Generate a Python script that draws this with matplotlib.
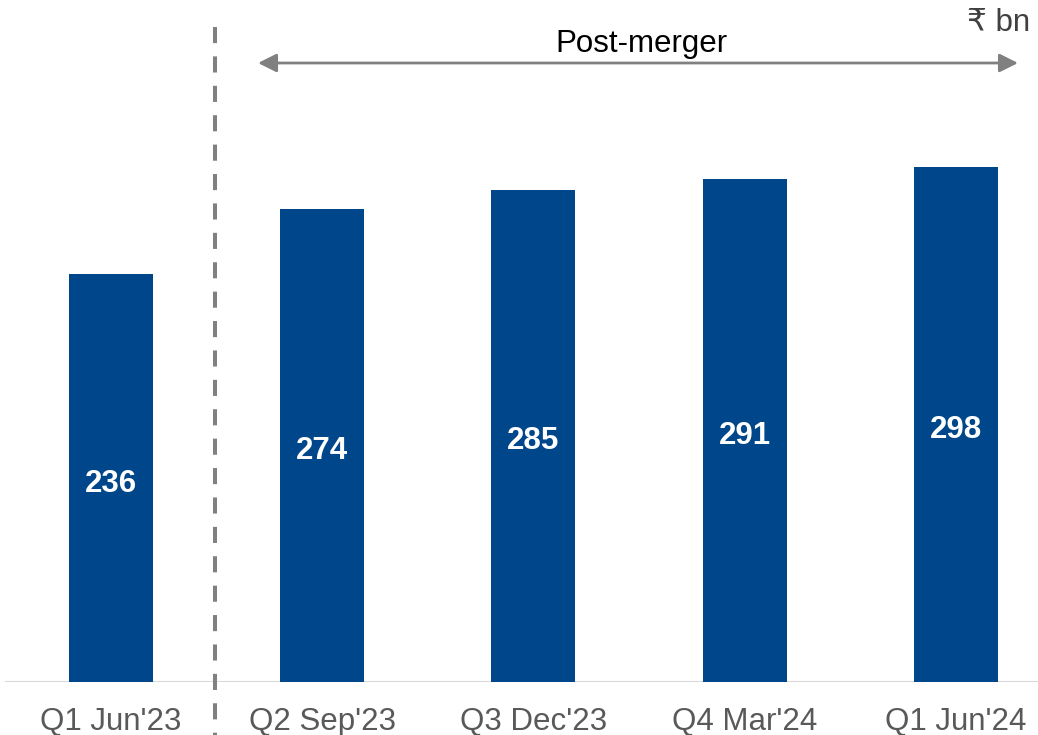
import matplotlib.pyplot as plt
from matplotlib.lines import Line2D

categories = ["Q1 Jun'23", "Q2 Sep'23", "Q3 Dec'23", "Q4 Mar'24", "Q1 Jun'24"]
values = [236, 274, 285, 291, 298]

plt.rcParams['font.family'] = ['Liberation Sans', 'DejaVu Sans']

fig = plt.figure(figsize=(10.38, 7.35), dpi=100)
# axes bottom sits on the baseline of the bars
ax = fig.add_axes([0, 53 / 735, 1, 682 / 735])

x = list(range(len(categories)))
bars = ax.bar(x, values, width=0.398, color='#00468B', zorder=2)

ax.set_xlim(-0.5256, 4.389)
ax.set_ylim(0, 394.9)

for xi, v in zip(x, values):
    ax.annotate(str(v), (xi, v / 2), xytext=(0, -4), textcoords='offset points',
                ha='center', va='center', color='white',
                fontsize=22.5, fontweight='bold')

# x axis labels
ax.set_xticks(x)
ax.set_xticklabels(categories, fontsize=22.5, color='#595959')
ax.tick_params(axis='x', length=0, pad=18)
ax.set_yticks([])
for s in ['top', 'right', 'left', 'bottom']:
    ax.spines[s].set_visible(False)

# baseline
ax.axhline(0, xmin=6 / 1038, xmax=1, color='#d9d9d9', lw=1.5, zorder=1)

# dashed separator between pre and post merger
sep = Line2D([215 / 1038, 215 / 1038], [1 - 27 / 735, 0], transform=fig.transFigure,
             color='#808080', lw=2.9, linestyle=(0, (4, 3.3)))
fig.add_artist(sep)

# post-merger arrow
ax.annotate('', xy=(1018 / 1038, 1 - 63 / 735), xytext=(258 / 1038, 1 - 63 / 735),
            xycoords='figure fraction', textcoords='figure fraction',
            arrowprops=dict(arrowstyle='<|-|>', color='#808080', lw=2,
                            mutation_scale=28, shrinkA=0, shrinkB=0))
fig.text(641 / 1038, 1 - 44 / 735, 'Post-merger', ha='center', va='center',
         fontsize=22.5, color='black')
fig.text(1030 / 1038, 1 - 23 / 735, '₹ bn', ha='right', va='center',
         fontsize=22.5, color='#404040')

fig.savefig('out.png', dpi=100)
